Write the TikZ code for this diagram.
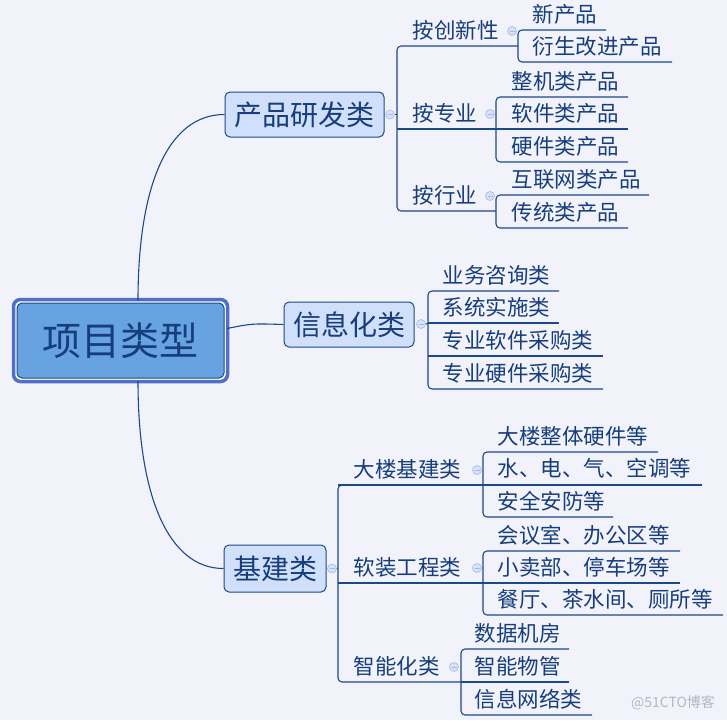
\documentclass[tikz,border=0pt]{standalone}
\usepackage{fontspec}
\setmainfont{Noto Sans CJK SC}
\definecolor{bg}{HTML}{F2F3FA}
\definecolor{ln}{HTML}{1C4A88}
\definecolor{txt}{HTML}{173E7C}
\definecolor{boxfill}{HTML}{D0DFFA}
\definecolor{mainfill}{HTML}{66A3E0}
\definecolor{mainouter}{HTML}{4F70C6}
\definecolor{foldfill}{HTML}{D8E2F6}
\definecolor{foldln}{HTML}{A3B9E6}
\definecolor{wm}{HTML}{B4B6C0}
\begin{document}
\begin{tikzpicture}[x=1pt,y=-1pt,
  line width=1.1pt, draw=ln,
  every node/.style={inner sep=0pt, text=txt},
  rc/.style={rounded corners=4pt},
  lvlone/.style={draw=ln, fill=boxfill, rounded corners=5pt, line width=1pt, font=\fontsize{28}{30}\selectfont},
  lvltwo/.style={anchor=west, font=\fontsize{21.5}{24}\selectfont},
  leaf/.style={anchor=west, font=\fontsize{21.5}{24}\selectfont},
  fold/.style={circle, draw=foldln, fill=foldfill, minimum size=9pt, line width=0.6pt,
    path picture={\draw[foldln, line width=0.8pt] ([xshift=-2.5pt]path picture bounding box.center) -- ([xshift=2.5pt]path picture bounding box.center);}}
]
\fill[bg] (0,0) rectangle (727,720);
\useasboundingbox (0,0) rectangle (727,720);

% main node
\node[draw=mainouter, fill=white, line width=3.5pt, rounded corners=7pt, minimum width=214pt, minimum height=82pt] (mainframe) at (120.5,340.5) {};
\node[draw=ln, fill=mainfill, rounded corners=5pt, line width=1pt, minimum width=207pt, minimum height=75pt, font=\fontsize{39}{42}\selectfont] (main) at (120.5,340.5) {项目类型};

% level 1
\node[lvlone, minimum width=159pt, minimum height=45pt] (p1) at (304.5,114.5) {产品研发类};
\node[lvlone, minimum width=130pt, minimum height=45pt] (p2) at (349,324.5) {信息化类};
\node[lvlone, minimum width=102pt, minimum height=47pt] (p3) at (275,568.5) {基建类};

\coordinate (t1) at (138,300.5);
\coordinate (t2) at (227,328.5);
\coordinate (t3) at (138,381);
\draw (t1) .. controls (138,185) and (168,114.5) .. (p1.west);
\draw (t2) .. controls (252,323.5) .. (p2.west);
\draw (t3) .. controls (138,495) and (168,568.5) .. (p3.west);

% fold circles
\node[fold] (f1) at (390,114.5) {};
\node[fold] (f2) at (421,324) {};
\node[fold] (f3) at (332,568.5) {};

% ---------- 产品研发类 ----------
\coordinate (b1) at (397,114.5);
\draw (f1.east) -- (b1);
\draw[rc] (518,46) -- (397,46) -- (397,211) -- (496,211);
\draw (397,129) -- (628,129);
\node[lvltwo] (a1) at (412,30) {按创新性};
\node[lvltwo] (a2) at (412,113) {按专业};
\node[lvltwo] (a3) at (412,195) {按行业};
\node[fold] (g1) at (512,31) {};
\node[fold] (g2) at (490,114) {};
\node[fold] (g3) at (490,196) {};

\draw[rc] (606,30) -- (518,30) -- (518,62) -- (672,62);
\node[leaf] (l1) at (532,14) {新产品};
\node[leaf] (l2) at (532,46) {衍生改进产品};

\draw[rc] (628,97) -- (496,97) -- (496,162) -- (628,162);
\node[leaf] (l3) at (511,81) {整机类产品};
\node[leaf] (l4) at (511,113) {软件类产品};
\node[leaf] (l5) at (511,146) {硬件类产品};

\draw[rc] (649,195) -- (496,195) -- (496,228) -- (628,228);
\node[leaf] (l6) at (511,179) {互联网类产品};
\node[leaf] (l7) at (511,212) {传统类产品};

% ---------- 信息化类 ----------
\coordinate (b2) at (428,323.5);
\draw (f2.east) -- (b2);
\draw[rc] (559,291) -- (428,291) -- (428,389) -- (603,389);
\draw (428,323) -- (559,323);
\draw (428,356) -- (603,356);
\node[leaf] (i1) at (442,275) {业务咨询类};
\node[leaf] (i2) at (442,307) {系统实施类};
\node[leaf] (i3) at (442,340) {专业软件采购类};
\node[leaf] (i4) at (442,373) {专业硬件采购类};

% ---------- 基建类 ----------
\coordinate (b3) at (338,568.5);
\draw (f3.east) -- (b3);
\draw[rc] (483,485) -- (338,485) -- (338,682) -- (461,682);
\draw (338,485) -- (702,485);
\draw (338,583) -- (680,583);
\node[lvltwo] (c1) at (353,469) {大楼基建类};
\node[lvltwo] (c2) at (353,567) {软装工程类};
\node[lvltwo] (c3) at (353,666) {智能化类};
\node[fold] (g4) at (477,470) {};
\node[fold] (g5) at (477,568) {};
\node[fold] (g6) at (454,667) {};

\draw[rc] (658,452) -- (483,452) -- (483,517) -- (613,517);
\node[leaf] (d1) at (497,436) {大楼整体硬件等};
\node[leaf] (d2) at (497,468) {水、电、气、空调等};
\node[leaf] (d3) at (497,501) {安全安防等};

\draw[rc] (680,551) -- (483,551) -- (483,615) -- (723,615);
\node[leaf] (d4) at (497,535) {会议室、办公区等};
\node[leaf] (d5) at (497,567) {小卖部、停车场等};
\node[leaf] (d6) at (497,599) {餐厅、茶水间、厕所等};

\draw[rc] (569,649) -- (461,649) -- (461,715) -- (592,715);
\draw (461,682) -- (569,682);
\node[leaf] (d7) at (474,633) {数据机房};
\node[leaf] (d8) at (474,666) {智能物管};
\node[leaf] (d9) at (474,699) {信息网络类};

\node[text=wm, font=\fontsize{14}{16}\selectfont] (wmk) at (673,703) {@51CTO博客};
\end{tikzpicture}
\end{document}
